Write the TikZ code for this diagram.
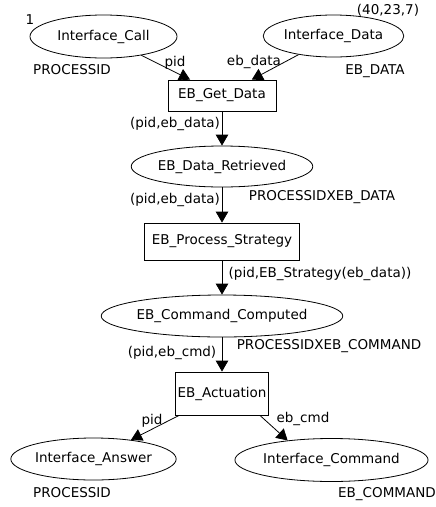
\documentclass[tikz,border=0pt]{standalone}
\usepackage{fontspec}
\setmainfont{DejaVu Sans}
\usetikzlibrary{shapes.geometric,arrows.meta}
\begin{document}
\begin{tikzpicture}[x=1pt,y=-1pt,
  font=\fontsize{13.5}{16}\selectfont,
  place/.style={draw,ellipse,line width=0.8pt,inner sep=0pt},
  trans/.style={draw,rectangle,line width=0.8pt,inner sep=0pt},
  arc/.style={draw,line width=0.8pt,-{Triangle[width=12.5pt,length=11pt]}},
  lbl/.style={inner sep=0pt,text height=9.8pt,text depth=0pt}]
\useasboundingbox (0,0) rectangle (436,507);

% places and transitions
\node[place,minimum width=147pt,minimum height=43pt] (call) at (103.5,36.5) {Interface\_Call};
\node[place,minimum width=131pt,minimum height=42pt] (data) at (333.5,36) {Interface\_Data};
\node[trans,minimum width=108pt,minimum height=31pt] (get) at (222,95.5) {EB\_Get\_Data};
\node[place,minimum width=155pt,minimum height=41pt] (retr) at (222,166.5) {EB\_Data\_Retrieved};
\node[trans,minimum width=155pt,minimum height=37pt] (proc) at (222,241.5) {EB\_Process\_Strategy};
\node[place,minimum width=203pt,minimum height=42pt] (comp) at (222,316) {EB\_Command\_Computed};
\node[trans,minimum width=93pt,minimum height=43pt] (act) at (222,393.5) {EB\_Actuation};
\node[place,minimum width=163pt,minimum height=42pt] (ans) at (93.5,459) {Interface\_Answer};
\node[place,minimum width=193pt,minimum height=43pt] (cmd) at (331.5,460) {Interface\_Command};

% arcs
\draw[arc] (call) -- (get);
\draw[arc] (data) -- (get);
\draw[arc] (get) -- (retr);
\draw[arc] (retr) -- (proc);
\draw[arc] (proc) -- (comp);
\draw[arc] (comp) -- (act);
\draw[arc] (act) -- (ans);
\draw[arc] (act.-30) -- (cmd.156);

% markings, colour sets and arc inscriptions
\node[lbl] (m1) at (30,20) {1};
\node[lbl] (m2) at (388,10) {(40,23,7)};
\node[lbl] (c1) at (72,70) {PROCESSID};
\node[lbl] (c2) at (375,70) {EB\_DATA};
\node[lbl] (a1) at (175,62) {pid};
\node[lbl] (a2) at (254,61) {eb\_data};
\node[lbl] (a3) at (175,123) {(pid,eb\_data)};
\node[lbl] (a4) at (175,199) {(pid,eb\_data)};
\node[lbl] (c3) at (322,196) {PROCESSIDXEB\_DATA};
\node[lbl] (a5) at (320,273) {(pid,EB\_Strategy(eb\_data))};
\node[lbl] (a6) at (172,352) {(pid,eb\_cmd)};
\node[lbl] (c4) at (329,345) {PROCESSIDXEB\_COMMAND};
\node[lbl] (a7) at (152,420) {pid};
\node[lbl] (a8) at (303,418) {eb\_cmd};
\node[lbl] (c5) at (72,493) {PROCESSID};
\node[lbl] (c6) at (387,493) {EB\_COMMAND};
\end{tikzpicture}
\end{document}
